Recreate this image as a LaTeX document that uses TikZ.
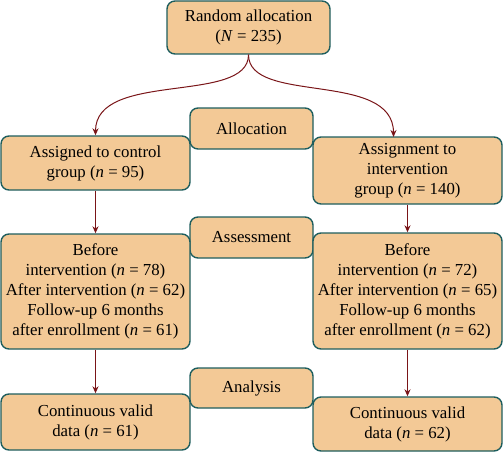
\documentclass[tikz,border=0pt]{standalone}
\usepackage{fontspec}
\setmainfont{Liberation Serif}
\usetikzlibrary{arrows.meta}
\definecolor{boxfill}{HTML}{F3C996}
\definecolor{boxline}{HTML}{1E5E5E}
\definecolor{arr}{HTML}{7A1518}
\begin{document}
\begin{tikzpicture}[x=1pt,y=-1pt,
  bx/.style={draw=boxline,fill=boxfill,line width=1.4pt,rounded corners=8pt,
    align=center,inner sep=0pt,font=\fontsize{16.8}{20}\selectfont},
  con/.style={draw=arr,line width=1pt,-{Stealth[length=7pt,width=6pt]}}]
\useasboundingbox (0,0) rectangle (503,452);
\node[bx,minimum width=163pt,minimum height=53pt] (top) at (248.5,27.5) {Random allocation\\(\textit{N} = 235)};
\node[bx,minimum width=123pt,minimum height=41pt] (alloc) at (251.5,128.5) {Allocation};
\node[bx,minimum width=189pt,minimum height=54pt] (ctrl) at (95.5,163) {Assigned to control\\group (\textit{n} = 95)};
\node[bx,minimum width=189pt,minimum height=67pt] (intv) at (407.5,170.5) {Assignment to\\intervention\\group (\textit{n} = 140)};
\node[bx,minimum width=123pt,minimum height=41pt] (assess) at (251.5,237.5) {Assessment};
\node[bx,minimum width=189pt,minimum height=115pt] (ctrlA) at (95.5,291.5) {Before\\intervention (\textit{n} = 78)\\After intervention (\textit{n} = 62)\\Follow-up 6 months\\after enrollment (\textit{n} = 61)};
\node[bx,minimum width=189pt,minimum height=116pt] (intvA) at (407.5,291) {Before\\intervention (\textit{n} = 72)\\After intervention (\textit{n} = 65)\\Follow-up 6 months\\after enrollment (\textit{n} = 62)};
\node[bx,minimum width=123pt,minimum height=40pt] (anal) at (251.5,388) {Analysis};
\node[bx,minimum width=189pt,minimum height=56pt] (ctrlB) at (95.5,422) {Continuous valid\\data (\textit{n} = 61)};
\node[bx,minimum width=189pt,minimum height=54pt] (intvB) at (407.5,424) {Continuous valid\\data (\textit{n} = 62)};
% connectors
\coordinate (cr) at (393.5,137);
\draw[con] (top.south) .. controls (248.5,105) and (95.5,70) .. (ctrl.north);
\draw[con] (top.south) .. controls (248.5,105) and (393.5,70) .. (cr);
\draw[con] (ctrl) -- (ctrlA);
\draw[con] (intv) -- (intvA);
\draw[con] (ctrlA) -- (ctrlB);
\draw[con] (intvA) -- (intvB);
\end{tikzpicture}
\end{document}
